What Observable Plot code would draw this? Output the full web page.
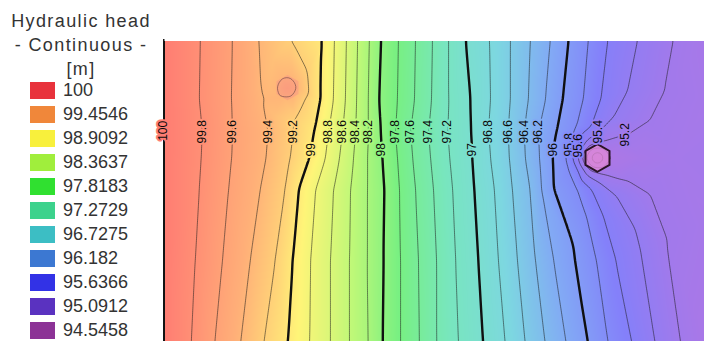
<!DOCTYPE html>
<html>
<head>
<meta charset="utf-8">
<script src="https://cdn.jsdelivr.net/npm/d3@7"></script>
<script src="https://cdn.jsdelivr.net/npm/@observablehq/plot@0.6"></script>
<style>
  html, body { margin: 0; padding: 0; background: #fff; }
  #chart { position: relative; width: 704px; height: 341px; overflow: hidden; }
  #chart > svg { position: absolute; left: 0; top: 0; }
  #legend { position: absolute; left: 0; top: 0; width: 162px; height: 341px; z-index: 2;
            font-family: "Liberation Sans", Arial, sans-serif; color: #333; }
  #legend .title { position: absolute; left: 0; top: 9px; width: 162px; text-align: center;
                   font-size: 18px; line-height: 24px; letter-spacing: 1.4px; }
  #legend .keys { position: absolute; left: 30px; top: 78px; }
  div.hh-swatches { font-size: 18px !important; font-family: "Liberation Sans", Arial, sans-serif !important;
                    color: #333 !important; margin: 0 !important; min-height: 0 !important; }
  div.hh-swatches-columns div.hh-swatch { height: 24px; padding: 0 !important; margin: 0 !important; }
  div.hh-swatch svg { margin-right: 8px !important; }
</style>
</head>
<body>
<div id="chart">
  <div id="legend">
    <div class="title">Hydraulic head<br>- Continuous -<br>[m]</div>
    <div class="keys"></div>
  </div>
</div>
<script>
// Legend classes (m) and their colours
const legendValues = [100, 99.4546, 98.9092, 98.3637, 97.8183, 97.2729, 96.7275, 96.182, 95.6366, 95.0912, 94.5458];
const legendColors = ["#e8323c", "#f0873a", "#f8f03c", "#a0ee3c", "#30e030", "#3cd28c", "#3cbec4", "#3c78d2", "#3232e6", "#5a32c0", "#8c3296"];
// The same classes as they appear washed over the model area
const fieldColors = ["#ff7d73", "#ffaf78", "#fff578", "#bef878", "#78f082", "#78e6be", "#7dd7e1", "#82aaf5", "#8480fa", "#a878e8", "#c07ad8"];

// Window onto the model (m): x east from the fixed-head boundary, y south from the north edge
const viewX = [0, 541];
const viewY = [0, 301];
// Extent of the head readings (the model runs on past the east and south sides of the window)
const fieldX = [0, 545];
const fieldY = [0, 305];

// Fixed-head boundary on the west side
const boundaryHead = 100;
const boundaryTrace = [[0, 0], [0, 60], [0, 118], [0, 220], [0, 305]];

// Contour levels (m) and the traced course of each isoline
const contourLevels = [99.8, 99.6, 99.4, 99.2, 99, 98.8, 98.6, 98.4, 98.2, 98,
                       97.8, 97.6, 97.4, 97.2, 97, 96.8, 96.6, 96.4, 96.2, 96,
                       95.8, 95.6, 95.4, 95.2];
const contourTraces = [
  [[37, 0], [36, 60], [39, 92], [38, 118], [36, 150], [32, 220], [28, 305]],
  [[69, 0], [68, 60], [69, 92], [68, 118], [65, 150], [59, 220], [51, 305]],
  [[95, 0], [97, 47], [99, 60], [105, 92], [103, 118], [97, 150], [87, 220], [77, 305]],
  [[127, 0], [144, 33], [141, 60], [131, 80], [130, 92], [127, 118], [122, 150], [112, 220], [100, 305]],
  [[159, 0], [157, 60], [151, 92], [148, 110], [146, 118], [135, 150], [129, 220], [124, 305]],
  [[171, 0], [170, 60], [165, 92], [162, 118], [152, 150], [147, 220], [146, 305]],
  [[183, 0], [182, 60], [179, 92], [176, 118], [170, 150], [167, 220], [167, 305]],
  [[194, 0], [193, 60], [192, 92], [190, 118], [187, 150], [186, 220], [186, 305]],
  [[206, 0], [205, 60], [205, 92], [204, 118], [204, 150], [204, 220], [205, 305]],
  [[217, 0], [215, 60], [217, 92], [218, 110], [219, 118], [221, 150], [220, 220], [219, 305]],
  [[235, 0], [234, 60], [232, 92], [234, 118], [236, 150], [237, 220], [237, 305]],
  [[252, 0], [251, 60], [247, 92], [249, 118], [252, 150], [255, 220], [256, 305]],
  [[269, 0], [268, 60], [265, 92], [267, 118], [270, 150], [273, 220], [273, 305]],
  [[285, 0], [285, 60], [284, 92], [286, 118], [289, 150], [292, 220], [295, 305]],
  [[302, 0], [307, 60], [308, 92], [309, 110], [309, 118], [311, 150], [315, 220], [320, 305]],
  [[326, 0], [327, 60], [325, 92], [327, 118], [331, 150], [335, 220], [342, 305]],
  [[347, 0], [347, 60], [345, 92], [346, 118], [349, 150], [354, 220], [362, 305]],
  [[367, 0], [365, 60], [361, 92], [362, 118], [367, 150], [372, 220], [382, 305]],
  [[387, 0], [382, 60], [375, 92], [376, 118], [378, 150], [390, 220], [403, 305]],
  [[405, 0], [399, 60], [393, 92], [390, 110], [389, 118], [390, 150], [410, 207], [425, 305]],
  [[425, 0], [420, 60], [414, 85], [406, 105], [403, 118], [406, 130], [414, 148], [423, 175], [433, 220], [445, 305]],
  [[444, 0], [437, 60], [427, 88], [415, 106], [409, 118], [415, 131], [427, 148], [439, 175], [452, 220], [469, 305]],
  [[474, 0], [464, 50], [449, 78], [435, 92], [422, 102], [414, 118], [422, 134], [435, 142], [452, 155], [472, 190], [492, 305]],
  [[509, 0], [500, 50], [485, 80], [462, 95], [442, 101], [427, 106], [419, 118], [427, 130], [442, 135], [462, 141], [485, 155], [502, 200], [517, 305]]
];
const boldLevels = [99, 98, 97, 96];

// Closed isolines around the two wells
const ringLevels = [95, 94.8, 99.4];
const ringPoints = [
  [[446, 118], [440, 108], [428, 108], [422, 118], [428, 128], [440, 128]],
  [[441, 118], [437, 112], [431, 112], [427, 118], [431, 124], [437, 124]],
  [[134, 48], [129, 39], [119, 39], [114, 48], [119, 57], [129, 57]]
];

// Wells
const wellNames = ["Injection well", "Pumping well"];
const wellX = [124, 434];
const wellY = [48, 118];
const wellHead = [99.5, 94.5458];

// Further head readings [x, y, head]
const spotHeads = [
  [106, 48, 99.37], [110, 20, 99.32], [110, 75, 99.34],
  [477, 118, 95.1], [512, 118, 95.14],
  [545, 0, 95.1], [545, 60, 95.12], [545, 118, 95.16], [545, 180, 95.12], [545, 305, 95.06]
];

// Isoline labels: level and where it is written
const labelLevels = [100, 99.8, 99.6, 99.4, 99.2, 99, 98.8, 98.6, 98.4, 98.2, 98,
                     97.8, 97.6, 97.4, 97.2, 97, 96.8, 96.6, 96.4, 96.2, 96,
                     95.8, 95.6, 95.4, 95.2];
const labelSpots = [[0, 91], [39, 92], [69, 92], [105, 92], [130, 92], [148, 110], [165, 92], [179, 92],
                    [192, 92], [205, 92], [218, 110], [232, 92], [247, 92], [265, 92], [284, 92], [309, 110],
                    [325, 92], [345, 92], [361, 92], [375, 92], [390, 110], [406, 105], [415, 106],
                    [435, 92], [462, 95]];

// ---- assemble the head samples ----
const samples = [];
boundaryTrace.forEach(([x, y]) => samples.push({x, y, head: boundaryHead}));
contourLevels.forEach((level, i) => contourTraces[i].forEach(([x, y]) => samples.push({x, y, head: level})));
ringLevels.forEach((level, i) => ringPoints[i].forEach(([x, y]) => samples.push({x, y, head: level})));
wellNames.forEach((name, i) => samples.push({x: wellX[i], y: wellY[i], head: wellHead[i]}));
spotHeads.forEach(([x, y, head]) => samples.push({x, y, head}));

const wells = wellNames.map((name, i) => ({name, x: wellX[i], y: wellY[i], head: wellHead[i]}));
const labels = labelLevels.map((level, i) => ({level, x: labelSpots[i][0], y: labelSpots[i][1]}));
const boundary = boundaryTrace.map(([x, y]) => ({x, y}));

const thinLevels = contourLevels.filter(l => !boldLevels.includes(l)).concat([95, 94.8]);

const field = {
  x: "x", y: "y", interpolate: "barycentric",
  x1: fieldX[0], x2: fieldX[1], y1: fieldY[0], y2: fieldY[1]
};

const chart = Plot.plot({
  width: 704,
  height: 341,
  marginLeft: 163,
  marginTop: 39,
  marginRight: 0,
  marginBottom: 0,
  style: {background: "transparent", overflow: "visible"},
  x: {domain: viewX, axis: null},
  y: {domain: viewY, reverse: true, axis: null},
  color: {
    type: "linear",
    domain: legendValues.slice().reverse(),
    range: fieldColors.slice().reverse(),
    interpolate: "rgb"
  },
  marks: [
    Plot.raster(samples, {...field, fill: "head", pixelSize: 1, clip: "frame"}),
    Plot.contour(samples, {
      ...field, value: "head", blur: 1, clip: "frame",
      thresholds: thinLevels, fill: "none", stroke: "#1a1a1a", strokeOpacity: 0.6, strokeWidth: 0.9
    }),
    Plot.contour(samples, {
      ...field, value: "head", blur: 1, clip: "frame",
      thresholds: boldLevels, fill: "none", stroke: "#101010", strokeWidth: 2.4
    }),
    // white north margin line hides the closing edges of the isoline polygons
    Plot.frame({anchor: "top", stroke: "white", strokeWidth: 3}),
    Plot.line(boundary, {x: "x", y: "y", stroke: "#151515", strokeWidth: 2, clip: "frame"}),
    Plot.dot(wells.slice(0, 1), {x: "x", y: "y", symbol: "hexagon", r: 11, fill: "#f07a90", fillOpacity: 0.28, stroke: "none"}),
    Plot.dot(wells.slice(1), {x: "x", y: "y", symbol: "hexagon", r: 12, fill: "#e08ad8", fillOpacity: 0.75, stroke: "#2a1426", strokeWidth: 2}),
    Plot.text(labels, {
      x: "x", y: "y", text: d => String(d.level), rotate: -90,
      fontSize: 12, fontFamily: "Liberation Sans, Arial, sans-serif",
      fill: "#0a0a0a", stroke: "level", strokeWidth: 4
    })
  ]
});
document.getElementById("chart").insertBefore(chart, document.getElementById("legend"));

const key = Plot.legend({
  color: {type: "ordinal", domain: legendValues.map(String), range: legendColors},
  legend: "swatches",
  columns: 1,
  swatchWidth: 25,
  swatchHeight: 17,
  className: "hh"
});
document.querySelector("#legend .keys").append(key);
</script>
</body>
</html>
